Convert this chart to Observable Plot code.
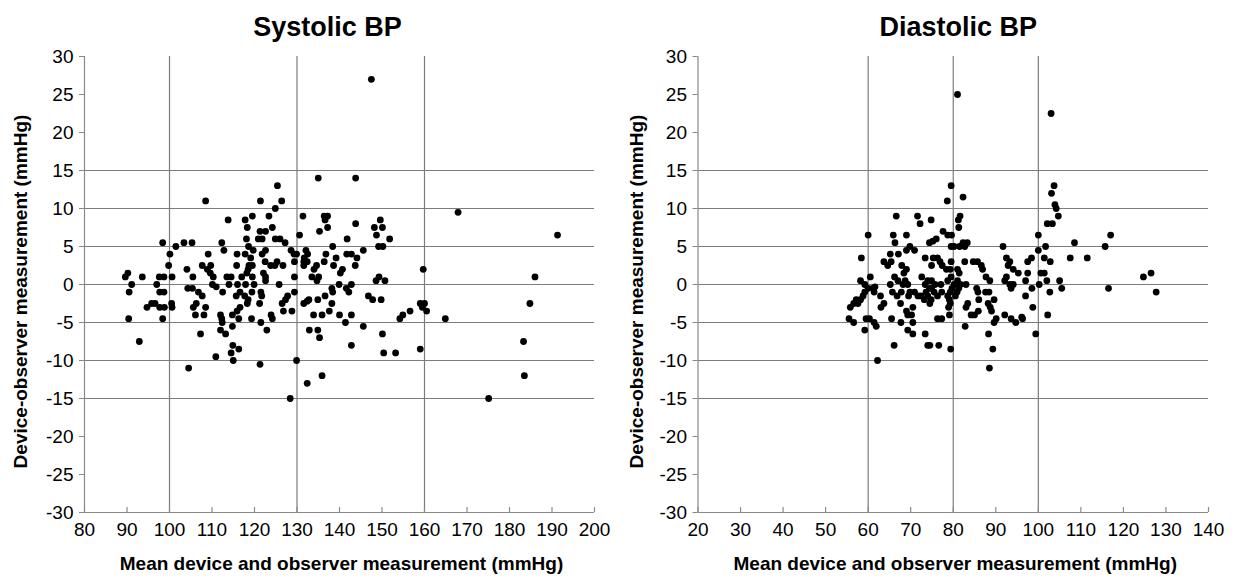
<!DOCTYPE html>
<html><head><meta charset="utf-8">
<script src="https://cdn.jsdelivr.net/npm/d3@7"></script>
<script src="https://cdn.jsdelivr.net/npm/@observablehq/plot@0.6"></script>
<style>
body{margin:0;background:#fff;}
#wrap{display:flex;width:1235px;height:579px;overflow:hidden;}
</style></head><body><div id="wrap"></div>
<script>
// Systolic BP: mean (x) and difference (y)
const sysX = [135,143.8,125.4,108.5,121.4,126.4,124.9,113.8,117.8,119.5,123.4,131.4,136.4,137.2,136.6,118.3,124.2,137.2,143.8,149.6,148.2,150.1,148.7,151.8,121.3,122.6,135.3,130.6,120.9,121.8,118.1,124.9,126,127.2,141.8,98.4,103.4,105.3,112.3,101.5,118.6,138.4,145.6,149.2,150.2,112.8,119.7,122.6,128.6,129.3,132.1,100.1,109.1,115.9,117.8,121.8,129.9,131.7,132.5,136.8,141.7,142.8,144.1,139.2,119.1,129.4,131.6,132.4,136.4,138.6,143.7,122.5,125.3,99.8,107.7,109.7,115.8,118.7,119.5,123.8,124.8,126.7,131.6,104.1,108.9,118.5,134.6,134,140.7,140.2,159.7,89.6,90.2,93.6,97.6,98.7,100.6,105.5,109.6,110.3,113.5,114.5,117,118.2,119.5,122.1,122.6,122.6,129.4,133.5,135.1,134.7,149.3,148.6,150.7,91.1,97,110.1,111,114,116,117.9,119.9,125.8,139.9,141.6,142.2,142.8,90.5,97.7,98.7,104.3,105.4,106.8,107.7,112.5,115.7,116.6,117.7,118.5,118.3,119.4,121.5,121.7,129.4,127.8,127.3,126.5,134.9,136.6,138.2,138.4,138.2,146.8,147.8,149.8,131.6,132.4,132.8,94.7,95.8,96.6,97.7,98.8,100.5,100.6,105.6,106.3,108.5,121.2,115.9,116.6,106.1,108.1,112,112.3,112.4,114.8,116.3,119.3,123.9,124.2,126.8,128.8,133.9,135.9,137.6,140,142.8,141.4,90.4,98.4,121.5,154.2,154.9,156.6,159,159.5,160,160.5,164.9,145.6,112,113.2,114.8,122.9,132.9,134.9,135.3,107.3,150.1,92.9,114.9,116.3,114.5,115,110.9,121.3,129.9,142.8,150.4,153.2,159,104.5,132.4,135.9,128.4,147.5,167.9,191.3,186,184.8,183.3,183.5,175.1];
const sysY = [14,14,13,11,11,11,10,8.5,8.5,9,9,9,9,9,8.5,7.5,7.5,7.5,8,8.5,7.5,7.5,6.5,6,7,7,7,6.5,6,6,6,6,6,5.5,6,5.5,5.5,5.5,5.5,5,5,5,4.5,5,5,4.5,4.5,4.5,4.5,4,4.5,4,4,4,4,4,4,3.5,4,4,4,4,3.5,3.5,3.5,3,3,3,3,2.5,2.5,3,3,2.5,2.5,2.5,2.5,2.5,2.5,2.5,2.5,2.5,2.5,2,2,2,2.5,2,2,1.5,2,1,1.5,1,1,1,1,1,1.5,1,1,1,1,1.5,1,1.5,1,0.5,1,1,1,0.5,1,0.5,0.5,0,0,0,-0.3,0,0,0,0,0,0,-0.5,-1,0,-1,-1,-1,-0.5,-0.5,-1,-1.5,-1,-1.5,-1,-1.5,-2,-2.5,-1,-1,-1.5,-1,-1.5,-2,-2.5,-2,-1.5,-0.5,-1,-2.5,-1.5,-2,-2,-2.5,-2.2,-2,-3,-2.5,-2.5,-3,-3,-2.5,-3,-3,-2.5,-3,-2.5,-3.5,-3,-4,-4,-4,-4.5,-5,-4,-4.5,-4.5,-4,-4.5,-3.5,-3.5,-4,-4,-3.5,-4,-4,-5,-4.5,-4.5,-5,-4.5,-4,-3.5,-2.5,-3,-2.5,-3.5,-4.5,-5.5,-6,-6.5,-5.5,-6,-6,-6,-7,-6.5,-6.5,-7.5,-8,-8.5,-9,-10,-9.5,-10.5,-10,-8,-9,-9,-8.5,-11,-13,-12,-15,27,9.5,6.5,1,-2.5,-7.5,-12,-15];

// Diastolic BP: mean (x) and difference (y)
const diaX = [79.5,78.6,82.3,66.6,71.6,72.2,74.8,81.2,81.6,81.3,77.6,78.7,79.6,60,65.9,66.3,69,74.4,75.2,76,79.5,80.2,81.5,82.3,83.3,82.7,69,69.8,70.9,65.2,67.1,58.4,63.7,64.6,65.4,67.9,69,68.4,73.4,75.3,76.3,76.9,77.4,78.4,79.3,74.9,79.5,81,81.4,82.7,84.7,85.7,86.6,86.9,87.7,88.6,87.6,88.4,89.6,88.2,85.5,85.8,86,83.4,83,84.2,85,85.9,82.8,88.7,89,89.6,90.1,88.3,89.3,88.5,55.8,56.6,57.2,57.6,58.2,58.8,59.2,60,60.5,61.1,61.4,61.6,58.2,59.2,55.5,56.6,59.2,59.5,60.3,61.4,61.9,62.2,62.9,63,63.7,65.5,67.7,66.1,65.2,65.7,66.2,67,66.8,67.6,67.8,68.2,68.7,69.3,69.5,69,69.3,70.2,70.5,69.3,70.5,70.5,69.8,70.9,71.7,72.4,73.2,74,74.8,74.5,75.5,76.3,77.1,77.3,72.6,73.4,74,74.9,75.7,74.4,73.6,74.9,73.4,74,74.5,76.3,77.3,76.6,79.4,79.1,78.9,79.3,79.1,78.7,79.3,79.7,80.2,80.9,81.3,81.7,83,80.5,78.7,79.5,81,81,103,103.7,103.1,103.9,104.2,104.7,102.1,103.3,100,101.7,100,101.4,102.8,108.5,107.5,111.5,115.7,117,116.5,124.7,126.5,127.7,105,105.5,102.7,102,100.6,101.4,100.2,98.5,97,98.7,102.2,99.4,97.5,97.5,98.4,96.1,96.3,94.7,93.6,92.1,91.7,92.5,93.3,92.9,94.1,95.3,92.1,92.5,93.3,94.1,93.6,97];
const diaY = [13,11,11.5,9,9,8,8.5,8.5,9,7.5,7,6.5,6.5,6.5,6.5,5.5,6.5,5.5,5.7,6,5,5,5,5.5,5.5,5,4.5,5,4.5,4,4,3.5,3,2.5,3,2.5,2,1.5,3.5,3.5,3.5,3,2.5,2,2,2.5,3,2,1.5,3,3,3,2.5,2,1,0.5,-1,-1,-2,-2.5,-0.5,-1,-2,-2.5,-3,-4,-4,-3.5,-5.5,-3,-3.5,-5,-4.5,-6.5,-8.5,-11,-3,-2.5,-2,-2.5,-2,-1.5,-1,-0.5,1,-0.5,-1,-0.3,0.5,0,-4.5,-5,-6,-4.5,-4.5,-5,-5.5,-10,-1.5,-3,-2.5,-4.5,-5,-8,0,-1,1,0.5,-1.5,-2.5,-1,0,0.5,0,-1.5,-3.5,-4,-4,-5,-6,-6.5,-3,-1,-1,-1.5,-1.5,-2,-1.5,-2,-2.5,-1,-1.5,0,-1,1,0,0.5,0.5,0,-0.5,-1,-0.5,-6.5,-8,-8,-4.5,-4.5,-8,-8.5,-4,-3,-2.5,-2,-1.5,-1,-0.5,0,-1,-0.5,0,0,-1.5,0.5,1,0.5,25,22.5,13,12,10.5,10,9,8,8,6.5,5,4.5,3.5,3,5.5,3.5,3.5,5,6.5,-0.5,1,1.5,-1,0.5,-0.5,-1,0.5,1.5,1.5,0,-0.5,-1.5,-3,-4,-6.5,1.5,3,3.5,-4.3,-4.5,-5,-4.5,-4,5,3.5,3,2.5,2,1.5,0.5,1,0,0,-0.5,0.5];

const yTicks = [-30,-25,-20,-15,-10,-5,0,5,10,15,20,25,30];
const hGrid = [-15,-10,-5,0,5,10,15];
const sysXTicks = [80,90,100,110,120,130,140,150,160,170,180,190,200];
const diaXTicks = [20,30,40,50,60,70,80,90,100,110,120,130,140];
const sysVGrid = [100,130,160];
const diaVGrid = [60,80,100];
const titles = ["Systolic BP", "Diastolic BP"];
const yLabel = "Device-observer measurement (mmHg)";
const xLabel = "Mean device and observer measurement (mmHg)";

const FONT = "'Liberation Sans', Arial, Helvetica, sans-serif";
const GRID = "#7c7c7c";
const AX = "#8a8a8a";

function panel({xs, ys, xTicks, vGrid, title, width, marginLeft, marginRight, titleDx, yLabDx, xLabDx}) {
  const data = xs.map((x, i) => ({x, y: ys[i]}));
  const x0 = xTicks[0], x1 = xTicks[xTicks.length - 1];
  return Plot.plot({
    width, height: 579, marginLeft, marginRight, marginTop: 56, marginBottom: 67,
    style: {fontFamily: FONT, fontSize: "19px", color: "#000", background: "#fff", overflow: "visible"},
    x: {domain: [x0, x1]},
    y: {domain: [-30, 30]},
    marks: [
      Plot.ruleY(hGrid, {y: d => d, stroke: GRID, strokeWidth: 1.2}),
      Plot.ruleX(vGrid, {x: d => d, stroke: GRID, strokeWidth: 1.2}),
      Plot.ruleX([x0], {x: d => d, stroke: AX, strokeWidth: 1.2}),
      Plot.ruleY([-30], {y: d => d, stroke: AX, strokeWidth: 1.2}),
      Plot.ruleX(xTicks, {x: d => d, y1: -30, y2: -29.35, stroke: AX, strokeWidth: 1.2}),
      Plot.axisY(yTicks, {tickSize: 5, tickPadding: 6, tickFormat: d => String(d), label: null, stroke: AX, fill: "#000", fontSize: 19}),
      Plot.axisX(xTicks, {tickSize: 0, tickPadding: 10, tickFormat: d => String(d), label: null, fill: "#000", fontSize: 19}),
      Plot.dot(data, {x: "x", y: "y", r: 3.4, fill: "#000", stroke: null}),
      Plot.text([title], {frameAnchor: "top", dy: -29, dx: titleDx, fontSize: 27, fontWeight: "bold", lineAnchor: "middle", fill: "#000"}),
      Plot.text([yLabel], {frameAnchor: "left", rotate: -90, dx: yLabDx, dy: 7, textAnchor: "middle", lineAnchor: "middle", fontSize: 19, fontWeight: "bold", fill: "#000"}),
      Plot.text([xLabel], {frameAnchor: "bottom", dy: 51, dx: xLabDx, fontSize: 19, fontWeight: "bold", lineAnchor: "middle", fill: "#000"})
    ]
  });
}

const wrap = document.getElementById("wrap");
wrap.append(panel({xs: sysX, ys: sysY, xTicks: sysXTicks, vGrid: sysVGrid, title: titles[0], width: 617, marginLeft: 84, marginRight: 23, titleDx: -12, yLabDx: -64, xLabDx: 2}));
wrap.append(panel({xs: diaX, ys: diaY, xTicks: diaXTicks, vGrid: diaVGrid, title: titles[1], width: 618, marginLeft: 80.5, marginRight: 27, titleDx: 5, yLabDx: -61, xLabDx: 2}));
</script></body></html>
